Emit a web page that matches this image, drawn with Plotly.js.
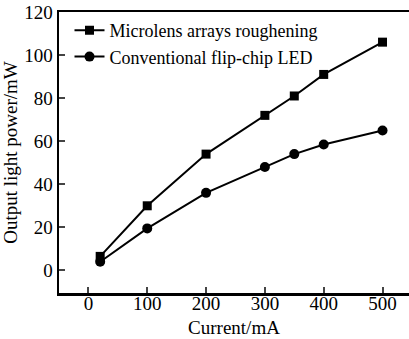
<!DOCTYPE html>
<html><head><meta charset="utf-8">
<script src="https://cdn.plot.ly/plotly-3.0.1.min.js"></script>
<style>body{margin:0;background:#fff}#chart{width:409px;height:339px}</style>
</head><body><div id="chart"></div>
<script>
const current = [20, 100, 200, 300, 350, 400, 500];
const microlens = [6.5, 30, 54, 72, 81, 91, 106];
const conventional = [4, 19.5, 36, 48, 54, 58.5, 65];
const seriesNames = ['Microlens arrays roughening', 'Conventional flip-chip LED'];
const xTicks = [0, 100, 200, 300, 400, 500];
const yTicks = [0, 20, 40, 60, 80, 100, 120];

const font = {family: 'Liberation Serif, Times New Roman, serif', size: 19, color: '#000'};
const legendFont = {family: 'Liberation Serif, Times New Roman, serif', size: 18, color: '#000'};
const traces = [
  {x: current, y: microlens, name: seriesNames[0], mode: 'lines+markers', type: 'scatter',
   line: {color: '#000', width: 2}, marker: {symbol: 'square', size: 9, color: '#000'}},
  {x: current, y: conventional, name: seriesNames[1], mode: 'lines+markers', type: 'scatter',
   line: {color: '#000', width: 2}, marker: {symbol: 'circle', size: 10, color: '#000'}}
];
const layout = {
  width: 409, height: 339,
  margin: {l: 59, r: 0, t: 12, b: 46},
  paper_bgcolor: '#fff', plot_bgcolor: '#fff',
  font: font,
  showlegend: true,
  legend: {x: 0.03, y: 1.0, xanchor: 'left', yanchor: 'top', bgcolor: 'rgba(0,0,0,0)',
           font: legendFont, itemwidth: 30, tracegroupgap: 0},
  xaxis: {range: [-50, 545], tickvals: xTicks, ticks: 'inside', ticklen: 6, tickwidth: 2,
          showline: true, linecolor: '#000', linewidth: 2.5, mirror: true, showgrid: false,
          zeroline: false, tickfont: font, ticklabelstandoff: -8,
          title: {text: 'Current/mA', font: font, standoff: 8}},
  yaxis: {range: [-10.5, 120], tickvals: yTicks, ticks: 'inside', ticklen: 6, tickwidth: 2,
          showline: true, linecolor: '#000', linewidth: 2.5, showgrid: false,
          zeroline: false, tickfont: font,
          title: {text: 'Output light power/mW', font: font, standoff: 4}}
};
Plotly.newPlot('chart', traces, layout, {staticPlot: true, displayModeBar: false});
</script></body></html>
